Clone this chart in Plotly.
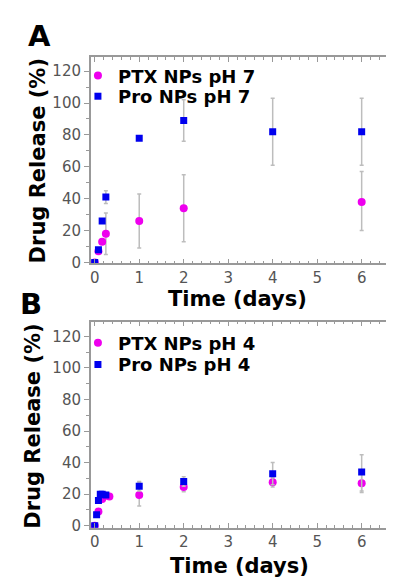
import plotly.graph_objects as go

# ---------------- data ----------------
# Panel A (pH 7)
ptx7_x = [0, 0.083, 0.167, 0.25, 1, 2, 6]
ptx7_y = [0, 7, 13, 18, 26, 34, 38]
ptx7_err_up = [0, 0, 0, 13, 17, 21, 19]
ptx7_err_dn = [0, 0, 0, 13, 17, 21, 18]

pro7_x = [0, 0.083, 0.167, 0.25, 1, 2, 4, 6]
pro7_y = [0, 8, 26, 41, 78, 89, 82, 82]
pro7_err_up = [0, 0, 0, 4, 0, 13, 21, 21]
pro7_err_dn = [0, 0, 0, 4, 0, 13, 21, 21]

# Panel B (pH 4)
ptx4_x = [0, 0.083, 0.167, 0.25, 0.33, 1, 2, 4, 6]
ptx4_y = [0, 9, 17, 19, 18.5, 19.5, 24.5, 27.5, 27]
ptx4_err_up = [0, 0, 0, 0, 0, 8, 3, 3, 6]
ptx4_err_dn = [0, 0, 0, 0, 0, 7, 3, 3, 6]

pro4_x = [0, 0.042, 0.083, 0.125, 0.167, 0.25, 1, 2, 4, 6]
pro4_y = [0, 7, 16, 20, 20, 19.5, 25, 28, 33, 34]
pro4_err_up = [0, 0, 0, 0, 0, 0, 3, 3, 7, 11]
pro4_err_dn = [0, 0, 0, 0, 0, 0, 3, 3, 7, 12]

x_ticks = [0, 1, 2, 3, 4, 5, 6]
y_ticks = [0, 20, 40, 60, 80, 100, 120]

ptx7_name = "PTX NPs pH 7"
pro7_name = "Pro NPs pH 7"
ptx4_name = "PTX NPs pH 4"
pro4_name = "Pro NPs pH 4"

# ---------------- styling ----------------
W, H = 394, 577
MAGENTA = "#ee00ee"
BLUE = "#0000ee"
ERR = "#bdbdbd"
AXIS = "#999999"
TICKFONT = dict(family="DejaVu Sans", size=15, color="#555555")
BOLD = dict(family="DejaVu Sans", color="black", weight="bold")


def px(x):
    return x / W


def py(y):
    return 1 - y / H


def err(up, dn):
    return dict(type="data", array=up, arrayminus=dn, symmetric=False,
                color=ERR, thickness=1.5, width=2)


fig = go.Figure()

fig.add_trace(go.Scatter(x=ptx7_x, y=ptx7_y, name=ptx7_name, mode="markers",
                         marker=dict(symbol="circle", size=8, color=MAGENTA),
                         error_y=err(ptx7_err_up, ptx7_err_dn),
                         xaxis="x", yaxis="y", legend="legend"))
fig.add_trace(go.Scatter(x=pro7_x, y=pro7_y, name=pro7_name, mode="markers",
                         marker=dict(symbol="square", size=7, color=BLUE),
                         error_y=err(pro7_err_up, pro7_err_dn),
                         xaxis="x", yaxis="y", legend="legend2"))
fig.add_trace(go.Scatter(x=ptx4_x, y=ptx4_y, name=ptx4_name, mode="markers",
                         marker=dict(symbol="circle", size=8, color=MAGENTA),
                         error_y=err(ptx4_err_up, ptx4_err_dn),
                         xaxis="x2", yaxis="y2", legend="legend3"))
fig.add_trace(go.Scatter(x=pro4_x, y=pro4_y, name=pro4_name, mode="markers",
                         marker=dict(symbol="square", size=7, color=BLUE),
                         error_y=err(pro4_err_up, pro4_err_dn),
                         xaxis="x2", yaxis="y2", legend="legend4"))

xcommon = dict(range=[-0.09, 6.75], tickvals=x_ticks, ticks="inside", ticklen=5,
               tickcolor=AXIS, showline=True, linecolor=AXIS, linewidth=1.5,
               mirror="ticks", showgrid=False, zeroline=False, tickfont=TICKFONT,
               minor=dict(dtick=0.2, ticks="inside", ticklen=3, tickcolor=AXIS))
ycommon = dict(tickvals=y_ticks, ticks="outside", ticklen=5,
               tickcolor=AXIS, showline=True, linecolor=AXIS, linewidth=1.5,
               mirror="ticks", showgrid=False, zeroline=False, tickfont=TICKFONT,
               minor=dict(dtick=10, ticks="outside", ticklen=3, tickcolor=AXIS))


def leg(top):
    return dict(x=px(70), y=py(top), xanchor="left", yanchor="top",
                bgcolor="rgba(0,0,0,0)", font=dict(size=18, **BOLD),
                itemwidth=30)


xdom = [px(83), px(392)]
fig.update_layout(
    width=W, height=H, margin=dict(l=0, r=0, t=0, b=0),
    paper_bgcolor="white", plot_bgcolor="white",
    xaxis=dict(domain=xdom, anchor="y", **xcommon),
    yaxis=dict(domain=[py(259), py(50)], anchor="x", range=[-0.6, 128.7], **ycommon),
    xaxis2=dict(domain=xdom, anchor="y2", **xcommon),
    yaxis2=dict(domain=[py(527), py(318)], anchor="x2", range=[-1.25, 129.4], **ycommon),
    legend=leg(50),
    legend2=leg(71),
    legend3=leg(321),
    legend4=leg(343),
    showlegend=True,
)

annots = [
    dict(text="A", x=px(31), y=py(28), font=dict(size=29, **BOLD)),
    dict(text="B", x=px(22), y=py(300), font=dict(size=29, **BOLD)),
    dict(text="Drug Release (%)", x=px(29), y=py(155), textangle=-90,
         font=dict(size=21, **BOLD)),
    dict(text="Drug Release (%)", x=px(25), y=py(424), textangle=-90,
         font=dict(size=21, **BOLD)),
    dict(text="Time (days)", x=px(232), y=py(295), font=dict(size=21, **BOLD)),
    dict(text="Time (days)", x=px(234), y=py(566), font=dict(size=21, **BOLD)),
]
for a in annots:
    fig.add_annotation(xref="paper", yref="paper", xanchor="center",
                       yanchor="middle", showarrow=False, **a)

fig.write_html("out.html")
